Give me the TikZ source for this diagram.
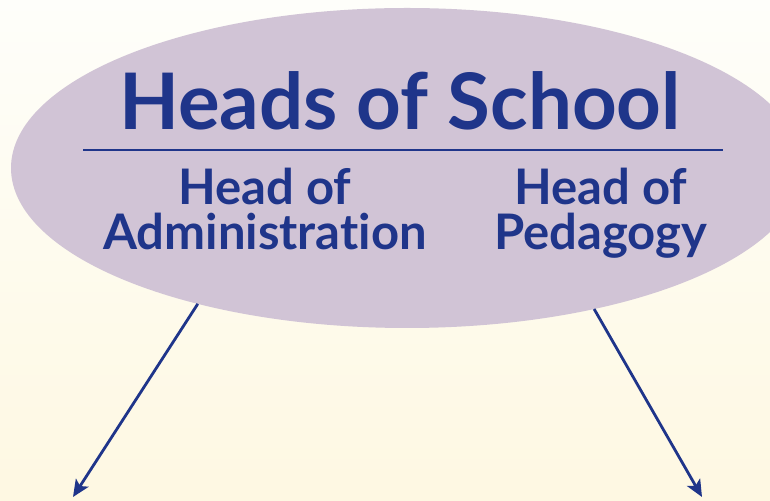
\documentclass[tikz,border=0pt]{standalone}
\usepackage{fontspec}
\setmainfont{Lato}[Ligatures=NoCommon]
\usetikzlibrary{shapes.geometric,arrows.meta}

\definecolor{schoolblue}{RGB}{31,53,138}
\definecolor{lilac}{RGB}{209,196,214}
\definecolor{cream}{RGB}{254,248,226}
\definecolor{paper}{RGB}{254,254,250}

\begin{document}
\begin{tikzpicture}[x=1pt,y=1pt]

    % styles
    \tikzstyle{heads} = [ellipse,fill=lilac,minimum width=792pt,
        minimum height=320pt,inner sep=0pt,outer sep=0pt]
    \tikzstyle{title} = [text=schoolblue,inner sep=0pt,
        font=\bfseries\fontsize{78}{78}\selectfont]
    \tikzstyle{sub} = [text=schoolblue,inner sep=0pt,align=center,
        font=\bfseries\fontsize{49}{45}\selectfont]
    \tikzstyle{link} = [draw=schoolblue,line width=2.8pt,
        -{Stealth[length=17pt,width=15pt,inset=4pt]}]

    % background
    \useasboundingbox (0,0) rectangle (770,500);
    \clip (0,0) rectangle (770,500);
    \shade[top color=paper,bottom color=cream] (0,0) rectangle (770,500);

    % ellipse
    \node[heads] (heads) at (407,332) {};
    \node[title,anchor=base] (title) at (400,370) {Heads of School};
    \draw[schoolblue,line width=2pt] (83,350) -- (723,350);

    % the two heads (base = last line)
    \node[sub,anchor=base] (admin) at (265,250) {Head of\\Administration};
    \node[sub,anchor=base] (pedagogy) at (601,250) {Head of\\Pedagogy};

    % arrows
    \coordinate (admin-end) at (73,3);
    \coordinate (pedagogy-end) at (702,3);
    \draw[link] (heads.213) -- (admin-end);
    \draw[link] (heads.323.8) -- (pedagogy-end);
\end{tikzpicture}
\end{document}
